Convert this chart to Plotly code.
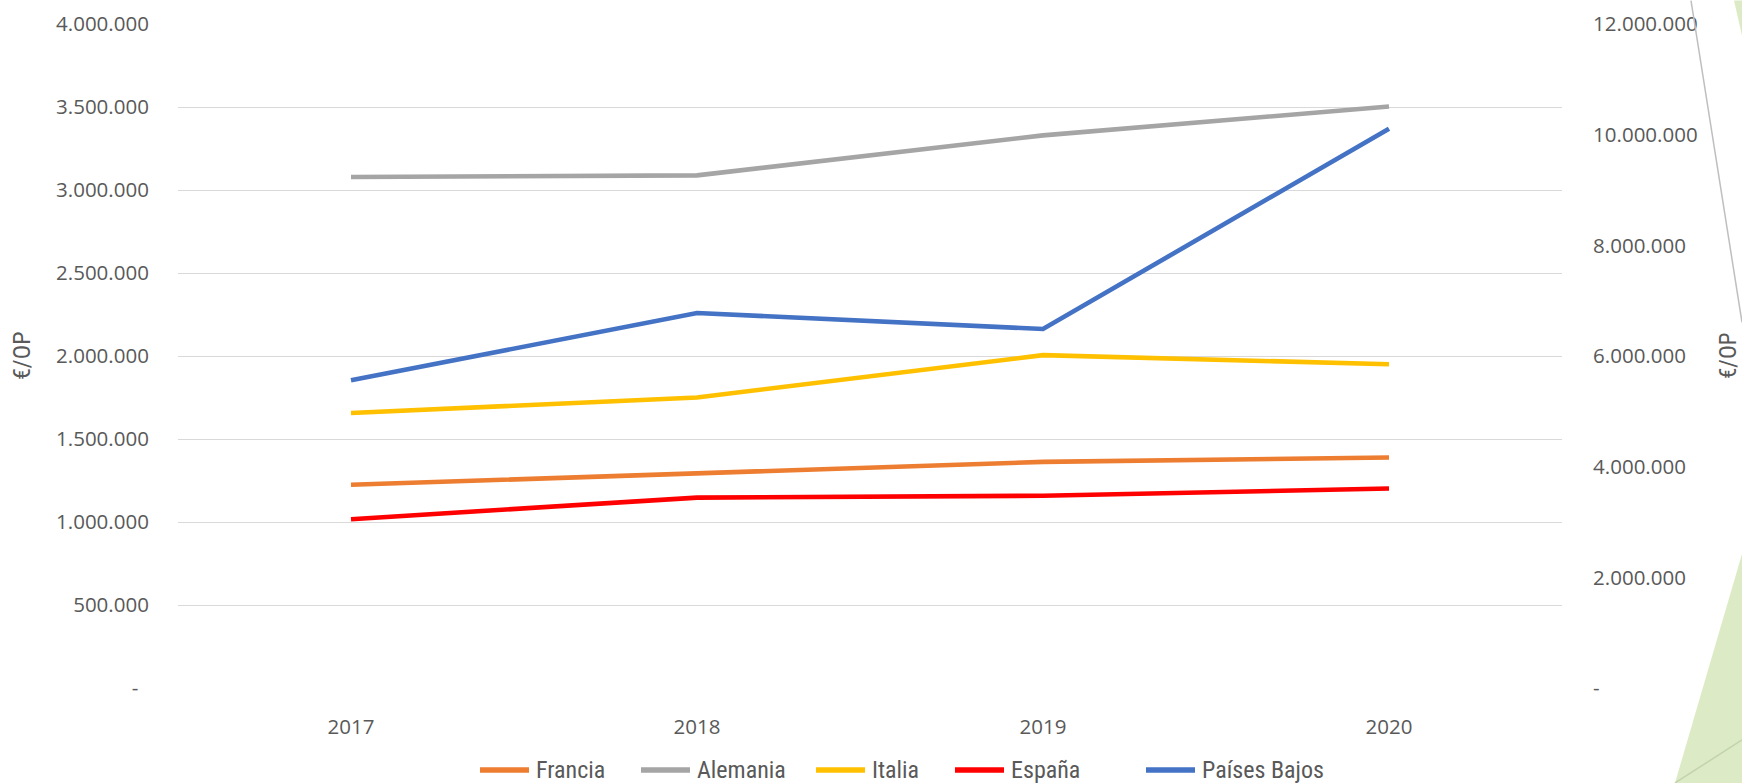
import plotly.graph_objects as go

years = ["2017", "2018", "2019", "2020"]
francia = [1224000, 1292000, 1362000, 1389000]
alemania = [3078000, 3088000, 3329000, 3503000]
italia = [1657000, 1750000, 2005000, 1950000]
espana = [1017000, 1147000, 1158000, 1202000]
paises_bajos = [5562000, 6777000, 6488000, 10108000]  # secondary axis

left_ticks = [0, 500000, 1000000, 1500000, 2000000, 2500000, 3000000, 3500000, 4000000]
left_text = ["-\u00a0\u00a0", "500.000", "1.000.000", "1.500.000", "2.000.000",
             "2.500.000", "3.000.000", "3.500.000", "4.000.000"]
right_ticks = [0, 2000000, 4000000, 6000000, 8000000, 10000000, 12000000]
right_text = ["-", "2.000.000", "4.000.000", "6.000.000", "8.000.000",
              "10.000.000", "12.000.000"]

TXT = "#595959"
TICKFONT = dict(family="Open Sans", size=20.5, color=TXT)
NARROW = "Liberation Sans Narrow, Roboto Condensed, Liberation Sans"

series = [
    ("Francia", francia, "#ED7D31", "y"),
    ("Alemania", alemania, "#A5A5A5", "y"),
    ("Italia", italia, "#FFC000", "y"),
    ("España", espana, "#FF0000", "y"),
    ("Países Bajos", paises_bajos, "#4472C4", "y2"),
]

# plot area geometry (px)
L, R, T, B = 178, 1562, 23.5, 688
W, H = R - L, B - T

def px(xp):
    return (xp - L) / W

def py(yp):
    return (B - yp) / H

fig = go.Figure()
for name, vals, col, ax in series:
    fig.add_trace(go.Scatter(x=years, y=vals, name=name, mode="lines",
                             line=dict(color=col, width=4.6), yaxis=ax,
                             showlegend=False))

shapes = [
    dict(type="path", xref="paper", yref="paper",
         path=f"M {px(1742)},{py(554)} L {px(1742)},{py(783)} L {px(1675)},{py(783)} Z",
         fillcolor="#dcebc5", line=dict(width=0), layer="below"),
    dict(type="line", xref="paper", yref="paper",
         x0=px(1675), y0=py(783), x1=px(1742), y1=py(740),
         line=dict(color="#c2d4ac", width=1.5)),
    dict(type="path", xref="paper", yref="paper",
         path=f"M {px(1734)},{py(0)} L {px(1742)},{py(0)} L {px(1742)},{py(35)} Z",
         fillcolor="#dcebc5", line=dict(width=0), layer="below"),
    dict(type="line", xref="paper", yref="paper",
         x0=px(1691), y0=py(0), x1=px(1742), y1=py(322),
         line=dict(color="#bfbfbf", width=1.5)),
]

annotations = [
    dict(text="€/OP", xref="paper", yref="paper", x=px(22), y=0.5, textangle=-90,
         showarrow=False, font=dict(family=NARROW, size=24, color=TXT),
         xanchor="center", yanchor="middle"),
    dict(text="€/OP", xref="paper", yref="paper", x=px(1728), y=0.5, textangle=-90,
         showarrow=False, font=dict(family=NARROW, size=23, color=TXT),
         xanchor="center", yanchor="middle"),
]

# custom legend (symbol line + label), positions in px
legend_x = [478, 639, 814, 953, 1144]
LEG_Y = 770
for (name, vals, col, ax), lx in zip(series, legend_x):
    shapes.append(dict(type="line", xref="paper", yref="paper",
                       x0=px(lx + 2), x1=px(lx + 51), y0=py(LEG_Y), y1=py(LEG_Y),
                       line=dict(color=col, width=5.5)))
    annotations.append(dict(text=name, xref="paper", yref="paper",
                            x=px(lx + 56), y=py(LEG_Y), xanchor="left", yanchor="middle",
                            showarrow=False,
                            font=dict(family=NARROW, size=24, color=TXT)))

fig.update_layout(
    width=1742, height=783,
    margin=dict(l=L, r=1742 - R, t=T, b=783 - B, autoexpand=False),
    paper_bgcolor="white", plot_bgcolor="white",
    showlegend=False,
    xaxis=dict(type="category", range=[-0.5, 3.5], showgrid=False, zeroline=False,
               showline=False, ticks="outside", ticklen=20, tickcolor="rgba(0,0,0,0)",
               tickfont=TICKFONT, automargin=False),
    yaxis=dict(range=[0, 4000000], tickvals=left_ticks, ticktext=left_text,
               showgrid=True, gridcolor="#d9d9d9", gridwidth=1.3, zeroline=False,
               showline=False, ticks="outside", ticklen=24, tickcolor="rgba(0,0,0,0)",
               tickfont=TICKFONT, automargin=False),
    yaxis2=dict(range=[0, 12000000], tickvals=right_ticks, ticktext=right_text,
                overlaying="y", side="right", showgrid=False, zeroline=False,
                showline=False, ticks="outside", ticklen=26, tickcolor="rgba(0,0,0,0)",
                tickfont=TICKFONT, automargin=False),
    shapes=shapes,
    annotations=annotations,
)

fig.write_html("out.html", config={"displayModeBar": False},
               post_script="document.body.style.margin='0';document.body.style.overflow='hidden';")
